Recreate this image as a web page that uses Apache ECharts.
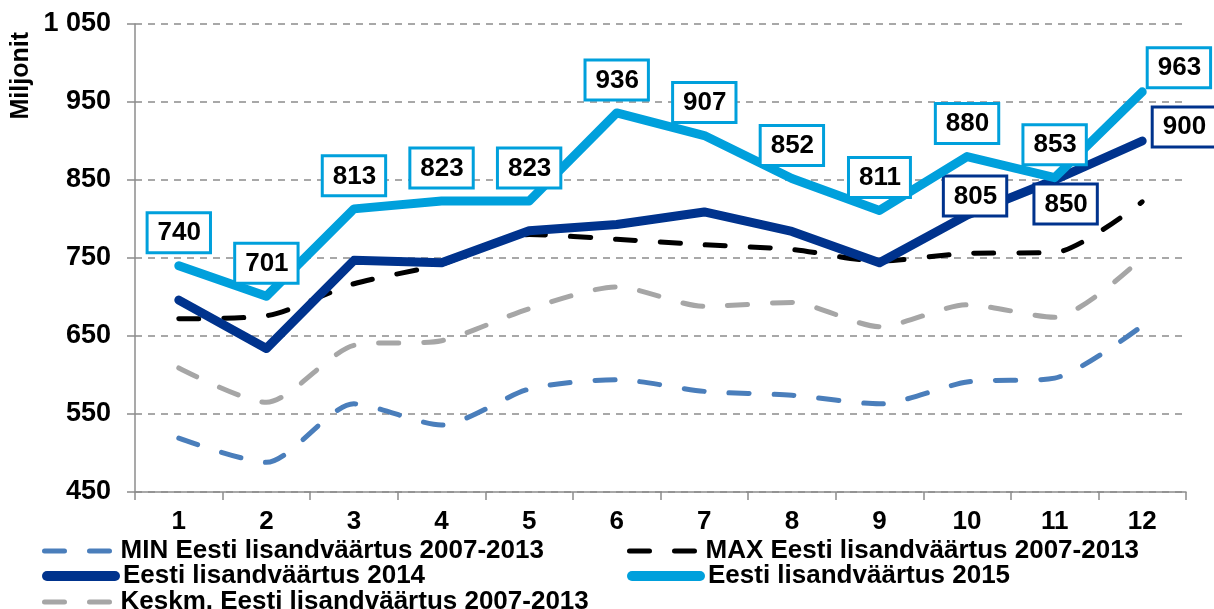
<!DOCTYPE html>
<html>
<head>
<meta charset="utf-8">
<script src="https://cdn.jsdelivr.net/npm/echarts@6/dist/echarts.min.js"></script>
<style>
  html, body { margin: 0; padding: 0; background: #fff; }
  #chart { width: 1214px; height: 609px; }
</style>
</head>
<body>
<div id="chart"></div>
<script>
// andmed (loetud pildilt)
const months = ['1', '2', '3', '4', '5', '6', '7', '8', '9', '10', '11', '12']
const minVals = [519, 488, 563, 536, 582, 594, 579, 574, 563, 591, 596, 663]
const maxVals = [672, 676, 717, 742, 780, 774, 767, 761, 746, 756, 757, 822]
const avgVals = [609, 565, 638, 644, 685, 713, 688, 693, 662, 690, 674, 750]
const vals2014 = [696, 634, 747, 744, 785, 793, 809, 784, 744, 805, 850, 900]
const vals2015 = [740, 701, 813, 823, 823, 936, 907, 852, 811, 880, 853, 963]
const yMin = 450
const yMax = 1050
const yStep = 100

const names = [
  'MIN Eesti lisandväärtus 2007-2013',
  'MAX Eesti lisandväärtus 2007-2013',
  'Eesti lisandväärtus 2014',
  'Eesti lisandväärtus 2015',
  'Keskm. Eesti lisandväärtus 2007-2013'
]

const FONT = '"Liberation Sans", Arial, sans-serif'
const DASH = [20, 25]

const chart = echarts.init(document.getElementById('chart'))

function boxLabel(color) {
  return {
    show: true,
    position: 'top',
    distance: 14,
    color: '#000',
    fontFamily: FONT,
    fontWeight: 'bold',
    fontSize: 26,
    lineHeight: 26,
    backgroundColor: '#fff',
    borderColor: color,
    borderWidth: 3,
    padding: [6, 8, 5, 9]
  }
}

// 2015 - kõik sildid üleval, viimane paremal
const data2015 = vals2015.map((v, i) => {
  if (i === 11) {
    return { value: v, label: { position: 'right', distance: 6, offset: [0, -24] } }
  }
  return v
})

// 2014 - sildid ainult viimasel kolmel kuul
const data2014 = vals2014.map((v, i) => {
  if (i === 9) return { value: v, label: { show: true, position: 'top', distance: 0, offset: [8, 0] } }
  if (i === 10) return { value: v, label: { show: true, position: 'bottom', distance: 5, offset: [11, 0] } }
  if (i === 11) return { value: v, label: { show: true, position: 'right', distance: 11, offset: [0, -14] } }
  return v
})

const label2014 = boxLabel('#00338D')
label2014.show = false

// iga legendi rida/veerg eraldi, et asukoht oleks täpne
function legendAt(name, left, centerY, width, dashed) {
  return {
    left: left,
    top: centerY - 9,
    padding: 0,
    itemWidth: 68,
    itemHeight: 9,
    itemStyle: { opacity: 0 },
    textStyle: {
      color: '#000',
      fontFamily: FONT,
      fontWeight: 'bold',
      fontSize: 26,
      lineHeight: 18,
      padding: [0, 0, 0, 3]
    },
    data: [{
      name: name,
      lineStyle: { width: width, type: dashed ? DASH : 'solid', cap: 'round' }
    }]
  }
}

chart.setOption({
  backgroundColor: '#fff',
  animation: false,
  grid: { left: 135, right: 28, top: 24, bottom: 117 },
  graphic: [{
    type: 'text',
    left: 9,
    top: 32,
    rotation: Math.PI / 2,
    style: {
      text: 'Miljonit',
      fill: '#000',
      font: 'bold 25px ' + FONT
    }
  }],
  legend: [
    legendAt(names[0], 42, 547, 5, true),
    legendAt(names[2], 42, 572, 10, false),
    legendAt(names[4], 42, 598, 5, true),
    legendAt(names[1], 627, 547, 5, true),
    legendAt(names[3], 627, 572, 10, false)
  ],
  xAxis: {
    type: 'category',
    data: months,
    boundaryGap: true,
    axisLine: { lineStyle: { color: '#8c8c8c', width: 1.5 } },
    axisTick: { show: true, length: 8, lineStyle: { color: '#8c8c8c', width: 1.5 } },
    axisLabel: {
      color: '#000',
      fontFamily: FONT,
      fontWeight: 'bold',
      fontSize: 26,
      margin: 17
    },
    splitLine: { show: false }
  },
  yAxis: {
    type: 'value',
    min: yMin,
    max: yMax,
    interval: yStep,
    axisLine: { show: true, lineStyle: { color: '#8c8c8c', width: 1.5 } },
    axisTick: { show: true, length: 8, lineStyle: { color: '#8c8c8c', width: 1.5 } },
    axisLabel: {
      color: '#000',
      fontFamily: FONT,
      fontWeight: 'bold',
      fontSize: 27,
      margin: 24,
      formatter: v => String(v).replace(/\B(?=(\d{3})+(?!\d))/g, ' ')
    },
    splitLine: { show: true, lineStyle: { color: '#8c8c8c', width: 1.5, type: [7, 6] } }
  },
  series: [
    {
      name: names[0],
      type: 'line',
      data: minVals,
      symbol: 'none',
      smooth: 0.25,
      z: 2,
      color: '#4A7EBB',
      lineStyle: { color: '#4A7EBB', width: 5, type: DASH, cap: 'round' }
    },
    {
      name: names[1],
      type: 'line',
      data: maxVals,
      symbol: 'none',
      smooth: 0.25,
      z: 3,
      color: '#000',
      lineStyle: { color: '#000', width: 5, type: DASH, cap: 'round' }
    },
    {
      name: names[4],
      type: 'line',
      data: avgVals,
      symbol: 'none',
      smooth: 0.25,
      z: 2,
      color: '#A6A6A6',
      lineStyle: { color: '#A6A6A6', width: 5, type: DASH, cap: 'round' }
    },
    {
      name: names[2],
      type: 'line',
      data: data2014,
      symbol: 'circle',
      symbolSize: 1,
      z: 4,
      color: '#00338D',
      itemStyle: { color: '#00338D' },
      lineStyle: { color: '#00338D', width: 9, cap: 'round', join: 'round' },
      label: label2014
    },
    {
      name: names[3],
      type: 'line',
      data: data2015,
      symbol: 'circle',
      symbolSize: 1,
      z: 5,
      color: '#00A0DC',
      itemStyle: { color: '#00A0DC' },
      lineStyle: { color: '#00A0DC', width: 9, cap: 'round', join: 'round' },
      label: boxLabel('#00A0DC')
    }
  ]
})
</script>
</body>
</html>
